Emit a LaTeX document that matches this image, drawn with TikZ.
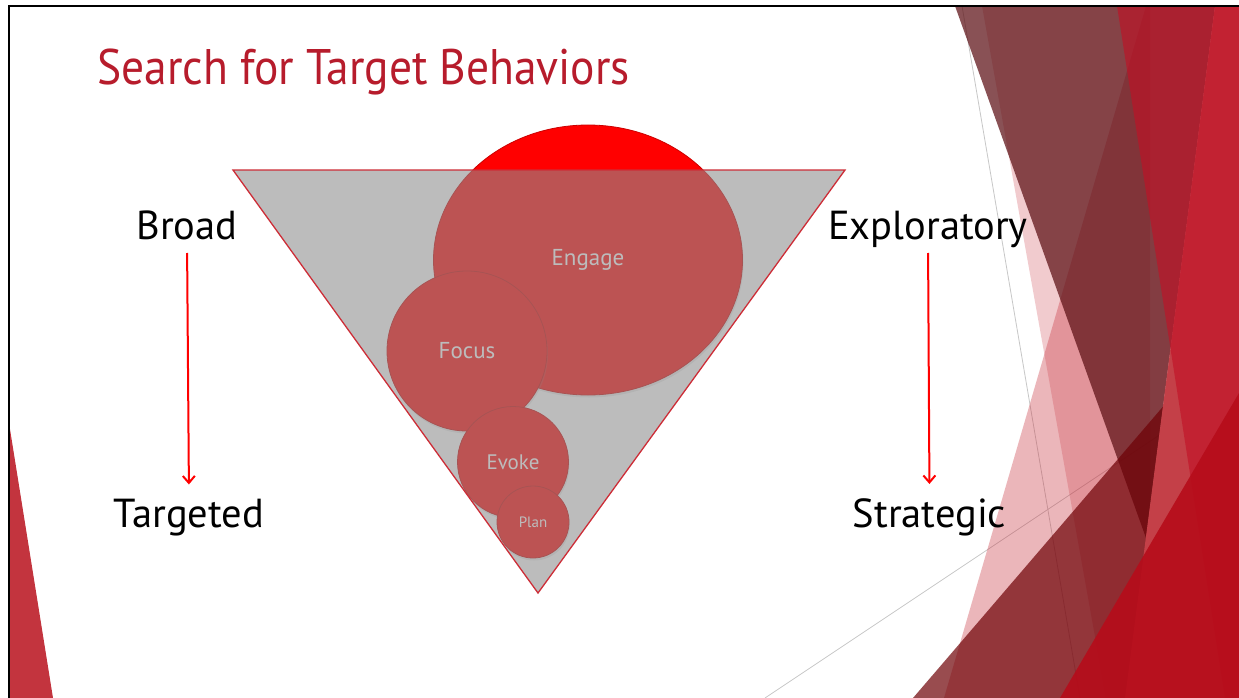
\documentclass[tikz,border=0pt]{standalone}
\usepackage{fontspec}
\setmainfont{PT Sans}
\newfontfamily\titlefont[FakeStretch=0.91]{PT Sans}
\usetikzlibrary{shapes.geometric,arrows.meta,shadows}

\definecolor{titlered}{RGB}{183,28,44}
\definecolor{funnelgray}{RGB}{142,142,142}
\definecolor{funneledge}{RGB}{205,45,55}
\definecolor{facetpink}{RGB}{200,48,60}
\definecolor{facetmaroon}{RGB}{92,15,20}
\definecolor{facetdark}{RGB}{110,0,5}
\definecolor{facetred}{RGB}{194,16,37}
\definecolor{facetlight}{RGB}{196,64,72}
\definecolor{facetbright}{RGB}{182,12,26}
\definecolor{cornerred}{RGB}{195,52,62}

\tikzset{
    bubble/.style={fill=red, draw=red!80!black, line width=0.8pt, text=white, inner sep=0pt,
        drop shadow={opacity=0.18, shadow xshift=1pt, shadow yshift=-2.5pt}},
    sidelabel/.style={font=\fontsize{40.5}{46}\selectfont, inner sep=0pt, anchor=base},
    trend/.style={draw=red, line width=2pt, -{Straight Barb[length=7pt,width=12pt,line width=2pt]}},
}

\begin{document}
\begin{tikzpicture}[x=1pt,y=-1pt]
    \useasboundingbox (0,0) rectangle (1239,698);
    \fill[white] (0,0) rectangle (1239,698);

    % thin guide lines behind the facets
    \draw[black!22, line width=0.8pt] (962,6) -- (1080,698);
    \draw[black!22, line width=0.8pt] (765,698) -- (1239,382);

    % facets on the right
    \fill[facetpink, opacity=0.35] (944,698) -- (1146,6) -- (1239,6) -- (1239,698) -- cycle;
    \fill[facetpink, opacity=0.25] (982,6) -- (1150,6) -- (1150,698) -- (1106,698) -- cycle;
    \fill[facetmaroon, opacity=0.72] (955,6) -- (1215,6) -- (1146,538) -- cycle;
    \fill[facetdark, opacity=0.7] (913,698) -- (1239,318) -- (1239,698) -- cycle;
    \fill[facetlight] (1215,6) -- (1239,6) -- (1239,698) -- (1125,698) -- cycle;
    \fill[facetred, opacity=0.62] (1117,6) -- (1239,6) -- (1239,698) -- (1225,698) -- cycle;
    \fill[facetbright, opacity=0.9] (1060,698) -- (1239,393) -- (1239,698) -- cycle;

    % facet on the left
    \fill[cornerred] (9,423) -- (53,698) -- (9,698) -- cycle;

    % frame
    \draw[line width=2.5pt] (9,698) -- (9,6) -- (1239,6);

    \node[anchor=base west, inner sep=0pt, text=titlered, font=\titlefont\fontsize{50}{60}\selectfont] (title) at (97,85) {Search for Target Behaviors};

    % bubbles
    \node[bubble, ellipse, minimum width=309pt, minimum height=270pt, font=\fontsize{23}{26}\selectfont] (engage) at (588,260) {Engage};
    \node[bubble, circle, minimum size=160pt, font=\fontsize{23}{26}\selectfont] (focus) at (467,351) {Focus};
    \node[bubble, circle, minimum size=111pt, font=\fontsize{21}{24}\selectfont] (evoke) at (513,462) {Evoke};
    \node[bubble, circle, minimum size=72pt, font=\fontsize{15}{18}\selectfont] (plan) at (533,522) {Plan};

    % funnel over the bubbles
    \coordinate (ftl) at (233,170);
    \coordinate (ftr) at (845,170);
    \coordinate (fbot) at (538,593);
    \fill[funnelgray, opacity=0.59] (ftl) -- (ftr) -- (fbot) -- cycle;
    \draw[funneledge, line width=1.3pt] (ftl) -- (ftr) -- (fbot) -- cycle;

    % left column
    \node[sidelabel] (broad) at (187,239) {Broad};
    \node[sidelabel] (targeted) at (189,527) {Targeted};
    \draw[trend, shorten <=14pt, shorten >=14pt] (broad.base) -- (targeted.north);

    % right column
    \node[sidelabel] (exploratory) at (928,239) {Exploratory};
    \node[sidelabel] (strategic) at (929.5,527) {Strategic};
    \draw[trend, shorten <=14pt, shorten >=14pt] (exploratory.base) -- (strategic.north);
\end{tikzpicture}
\end{document}
